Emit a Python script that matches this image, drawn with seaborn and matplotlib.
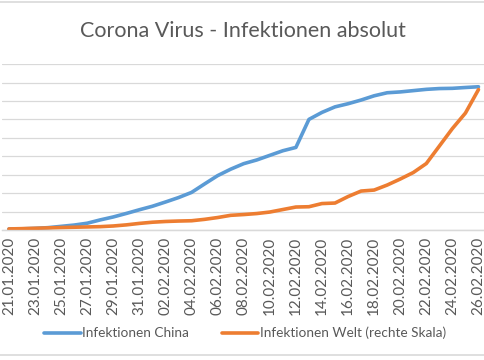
import matplotlib
matplotlib.use("Agg")
import matplotlib.pyplot as plt
import matplotlib.lines as mlines
import seaborn as sns
import pandas as pd

dates = pd.date_range("2020-01-21", "2020-02-26", freq="D")
date_labels = [d.strftime("%d.%m.%Y") for d in dates]

china = [550, 650, 900, 1300, 2000, 2700, 3700, 5500, 7100, 9000,
         11000, 12900, 15200, 17600, 20400, 25000, 29500, 33000, 36000, 38000,
         40500, 43000, 44800, 60000, 63800, 66800, 68500, 70500, 72800, 74450,
         74900, 75600, 76300, 76730, 76850, 77300, 77700]

welt = [30, 38, 48, 58, 68, 76, 84, 92, 110, 140,
        180, 212, 232, 244, 252, 290, 339, 399, 420, 447,
        488, 556, 624, 632, 718, 732, 908, 1057, 1084, 1220,
        1383, 1559, 1803, 2277, 2752, 3172, 3809]

df = pd.DataFrame({"idx": range(len(dates)), "China": china, "Welt": welt})

sns.set_style("white")
plt.rcParams["font.family"] = ["Lato", "DejaVu Sans"]

blue = "#5B9BD5"
orange = "#ED7D31"
grid = "#D9D9D9"
txt = "#595959"

fig = plt.figure(figsize=(4.85, 3.6), dpi=100)
ax = fig.add_axes([0.005, 0.361, 0.995, 0.461])
ax2 = ax.twinx()

sns.lineplot(data=df, x="idx", y="China", ax=ax, color=blue, linewidth=2.6)
sns.lineplot(data=df, x="idx", y="Welt", ax=ax2, color=orange, linewidth=2.6)

ax.set_xlim(-0.5, len(dates) - 0.5)
ax.set_ylim(0, 90000)
ax2.set_ylim(0, 4500)
ax.set_yticks(range(0, 90001, 10000))
ax2.set_yticks([])
ax.set_yticklabels([])
ax.tick_params(axis="y", length=0)
ax.yaxis.grid(True, color=grid, linewidth=0.9)
ax.set_axisbelow(True)

ax.set_xticks(range(0, len(dates), 2))
ax.set_xticklabels(date_labels[::2], rotation=90, fontsize=11, color=txt)
ax.tick_params(axis="x", length=0, pad=5)
ax.set_xticks([i - 0.5 for i in range(0, len(dates) + 1, 2)], minor=True)
ax.tick_params(axis="x", which="minor", length=5, color=grid, width=0.9)
ax.set_xlabel("")
ax.set_ylabel("")
ax2.set_ylabel("")

for a in (ax, ax2):
    for s in ("top", "left", "right"):
        a.spines[s].set_visible(False)
    a.spines["bottom"].set_color(grid)
    a.spines["bottom"].set_linewidth(0.9)

fig.text(0.5, 0.915, "Corona Virus - Infektionen absolut", ha="center", va="center",
         fontsize=15.5, color=txt)

h1 = mlines.Line2D([], [], color=blue, linewidth=2.6)
h2 = mlines.Line2D([], [], color=orange, linewidth=2.6)
fig.legend([h1, h2], ["Infektionen China", "Infektionen Welt (rechte Skala)"],
           loc="center", bbox_to_anchor=(0.505, 0.075), ncol=2, frameon=False,
           fontsize=9.8, labelcolor=txt, handlelength=2.7, columnspacing=2.4,
           handletextpad=0.1)

fig.add_artist(mlines.Line2D([0, 1], [0.995, 0.995], color=grid, linewidth=1.2))
fig.add_artist(mlines.Line2D([0, 1], [0.014, 0.014], color=grid, linewidth=1.2))

fig.savefig("out.png", dpi=100)
